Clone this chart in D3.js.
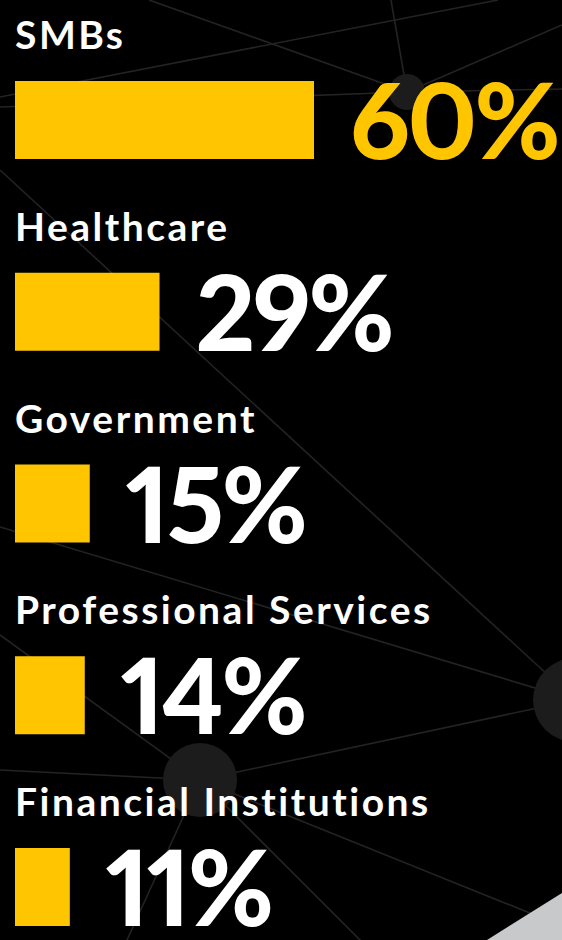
<!DOCTYPE html>
<html>
<head>
<meta charset="utf-8">
<script src="https://cdn.jsdelivr.net/npm/d3@7"></script>
<style>
  html, body { margin: 0; padding: 0; background: #000; overflow: hidden; }
  svg { display: block; }
  .label { font-family: Lato, "Open Sans", sans-serif; font-weight: 700; fill: #fff; }
  .value { font-family: Lato, "Open Sans", sans-serif; font-weight: 900; font-variant-numeric: proportional-nums; font-feature-settings: "pnum" 1; }
</style>
</head>
<body>
<div id="chart"></div>
<script>
// data
var categories = ["SMBs", "Healthcare", "Government", "Professional Services", "Financial Institutions"];
var values = [60, 29, 15, 14, 11];
var valueLabels = ["60%", "29%", "15%", "14%", "11%"];

var svgWidth = 562;
var svgHeight = 940;

var svg = d3.select("#chart")
  .append("svg")
  .attr("width", svgWidth)
  .attr("height", svgHeight);

svg.append("rect")
  .attr("width", svgWidth)
  .attr("height", svgHeight)
  .attr("fill", "#000");

// background network decoration
var nodes = [[407, 92, 18], [575, 700, 42], [200, 780, 37]];
var links = [
  [149, 0, 407, 92], [0, 97, 498, 0], [391, 0, 407, 92], [407, 92, 562, 25],
  [0, 107, 407, 92], [407, 92, 562, 89], [0, 170, 575, 700], [0, 527, 575, 700],
  [0, 635, 200, 780], [0, 770, 200, 780], [200, 780, 575, 700], [200, 780, 127, 940],
  [200, 780, 362, 942], [200, 780, 562, 926]
];

var bg = svg.append("g");
bg.selectAll("line")
  .data(links)
  .enter()
  .append("line")
  .attr("x1", d => d[0]).attr("y1", d => d[1])
  .attr("x2", d => d[2]).attr("y2", d => d[3])
  .attr("stroke", "#232323")
  .attr("stroke-width", 1.6);

bg.selectAll("circle")
  .data(nodes)
  .enter()
  .append("circle")
  .attr("cx", d => d[0])
  .attr("cy", d => d[1])
  .attr("r", d => d[2])
  .attr("fill", "#1c1c1c");

bg.append("polygon")
  .attr("points", "487,940 562,893 562,940")
  .attr("fill", "#c8c9cb");

// scales
var left = 15;
var barHeight = 78;

var xScale = d3.scaleLinear()
  .domain([0, 60])
  .range([0, 299]);

var yScale = d3.scalePoint()
  .domain(categories)
  .range([81, 848]);

var rows = svg.selectAll(".row")
  .data(categories)
  .enter()
  .append("g")
  .attr("class", "row")
  .attr("transform", d => `translate(0, ${yScale(d)})`);

// category labels
rows.append("text")
  .attr("class", "label")
  .attr("x", left)
  .attr("y", -32)
  .attr("font-size", "39px")
  .attr("letter-spacing", "2.5px")
  .text(d => d);

// bars
rows.append("rect")
  .attr("x", left)
  .attr("y", 0)
  .attr("width", (d, i) => xScale(values[i]))
  .attr("height", barHeight)
  .attr("fill", "#ffc600");

// value labels
rows.append("text")
  .attr("class", "value")
  .attr("x", (d, i) => left + xScale(values[i]) + 36)
  .attr("y", barHeight)
  .attr("font-size", "104px")
  .attr("letter-spacing", "-2.5px")
  .attr("fill", (d, i) => i == 0 ? "#ffc600" : "#fff")
  .text((d, i) => valueLabels[i]);
</script>
</body>
</html>
